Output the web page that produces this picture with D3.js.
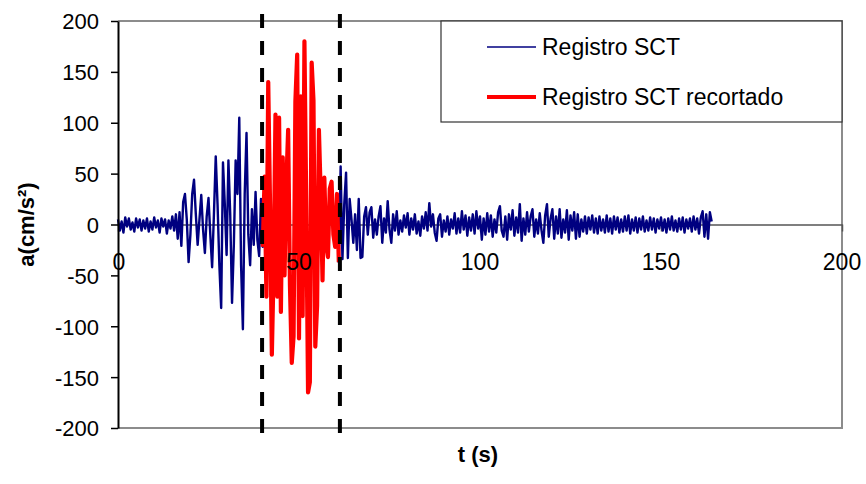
<!DOCTYPE html>
<html>
<head>
<meta charset="utf-8">
<script src="https://cdn.jsdelivr.net/npm/d3@7"></script>
<style>
  html, body { margin: 0; padding: 0; background: #fff; }
  svg { display: block; }
  text { font-family: "Liberation Sans", Arial, sans-serif; fill: #000; }
</style>
</head>
<body>
<svg id="chart" width="866" height="484"></svg>
<script>
// ---------- DATA ----------
const seriesNames = ["Registro SCT", "Registro SCT recortado"];
const sampleStep = 0.5;          // s between samples
const preStart = 0;              // t of first pre-cut sample
const cutStart = 40;             // t of first "recortado" sample
const postStart = 61.5;          // t of first post-cut sample

// Registro SCT before the cut window (t = 0 .. 39.5 s)
const preCut = [
  5, -6, 3, -8, 7, -2, 6, -5, 2, -7, 6, -3, 5, -6, 4, -4,
  6, -7, 3, -5, 7, -3, 4, -8, 6, -2, 5, -9, 4, -4, 8, -6,
  10, -14, 12, -21, 22, 30, 5, -37, -10, 30, 44, 10, -20, 5, 29, -5,
  -28, 8, 26, -10, -42, 10, 67, 20, -40, -82, 61, 20, -30, 63, 10, -77,
  -20, 63, 30, 105, -40, -103, 30, 90, -10, -40, 15, -20, 32, -15, -31, 25
];

// Registro SCT recortado (t = 40 .. 61 s)
const cutSegment = [
  -22, 47, -71, 140, 20, -128, -40, 108, -71, 105, -86, 66, -50, 40, 93, -60,
  -136, -110, 121, 167, -112, 126, -90, 180, 20, -165, -155, 159, 122, -120, -80, 93,
  30, -55, 46, -20, -32, 35, 42, -10, -22, 30, -37
];

// Registro SCT after the cut window (t = 61.5 .. 164 s)
const postCut = [
  57, -34, 20, 51, -33, 25, 5, -18, 10, -25, 25, -33, -32, 8, 17, -10,
  12, 17, -13, 5, -10, 8, 18, -18, 6, -8, 23, -5, -18, 10, -6, 13,
  -10, 4, -7, 9, -3, 11, -10, 6, -5, 10, -9, 3, -11, 8, -4, 12,
  -6, 21, -2, 10, -8, -16, 6, 10, -12, 4, -7, 8, -10, 5, -4, 11,
  -9, 6, -8, 13, -5, 9, -11, 7, -6, 10, -9, 13, -4, 8, -15, 6,
  -10, 11, -7, 9, -12, 5, -8, 12, 18, -6, -12, 8, -15, 10, -5, 14,
  -11, 7, -8, 20, -16, 6, -10, 12, -7, 8, 15, -12, 5, -9, 11, -6,
  -18, 9, 20, -12, 6, 15, -14, 8, -9, 15, -13, 5, -8, 14, -15, 9,
  -6, 12, -14, 10, -12, 5, -7, 8, -9, 7, -5, 9, -8, 6, -9, 8,
  -6, 5, -8, 9, -7, 6, -9, 8, -5, 7, -8, 5, -7, 8, -6, 9,
  -9, 5, -6, 7, -8, 6, -5, 8, -7, 4, -6, 7, -5, 6, -8, 5,
  -4, 7, -6, 5, -8, 6, -5, 8, -6, 4, -7, 6, -5, 7, -8, 5,
  -4, 6, -7, 8, -5, 6, -9, 7, 13, -12, 10, -14, 12, 3
];

// Cut window markers (dashed verticals)
const cutMarkers = [39.8, 61.3];
const markerSpan = [207, -209];

// Axes
const xDomain = [0, 200];
const yDomain = [-200, 200];
const xTicks = [0, 50, 100, 150, 200];
const yTicks = [200, 150, 100, 50, 0, -50, -100, -150, -200];
const xTitle = "t (s)";
const yTitle = "a(cm/s²)";

// ---------- CHART ----------
const svg = d3.select("#chart");
const plotL = 118, plotR = 842, plotT = 21, plotB = 428;

const x = d3.scaleLinear().domain(xDomain).range([plotL, plotR]);
const y = d3.scaleLinear().domain(yDomain).range([plotB, plotT]);

const toPts = (arr, t0) => arr.map((v, i) => ({ t: t0 + i * sampleStep, a: v }));
const prePts = toPts(preCut, preStart);
const cutPts = toPts(cutSegment, cutStart);
const postPts = toPts(postCut, postStart);
const fullPts = prePts.concat(cutPts, postPts);

const line = d3.line().x(d => x(d.t)).y(d => y(d.a));
const plainNum = d => String(d);

// plot frame (top / right / bottom in grey)
svg.append("path")
  .attr("d", `M${plotL},${plotT}H${plotR}V${plotB}H${plotL}`)
  .attr("fill", "none").attr("stroke", "#8c8c8c").attr("stroke-width", 2);

// zero axis (x axis through y=0)
const xAxis = svg.append("g")
  .attr("transform", `translate(0,${y(0)})`)
  .call(d3.axisBottom(x).tickValues(xTicks).tickSize(7).tickSizeOuter(0).tickPadding(21)
        .tickFormat(plainNum));
xAxis.select(".domain").attr("stroke", "#555").attr("stroke-width", 1.5);
xAxis.selectAll(".tick line").attr("stroke", "#555").attr("stroke-width", 1.5);
xAxis.selectAll(".tick text").remove();

// data
svg.append("path").datum(fullPts)
  .attr("d", line).attr("fill", "none")
  .attr("stroke", "#000080").attr("stroke-width", 2.4).attr("stroke-linejoin", "round");
svg.append("path").datum(cutPts)
  .attr("d", line).attr("fill", "none")
  .attr("stroke", "#ff0000").attr("stroke-width", 4.2).attr("stroke-linejoin", "round");

// dashed markers
svg.selectAll(".marker").data(cutMarkers).enter().append("line")
  .attr("class", "marker")
  .attr("x1", d => x(d)).attr("x2", d => x(d))
  .attr("y1", y(markerSpan[0])).attr("y2", y(markerSpan[1]))
  .attr("stroke", "#000").attr("stroke-width", 4).attr("stroke-dasharray", "14,13");

// x tick labels (drawn over data)
svg.append("g").selectAll("text").data(xTicks).enter().append("text")
  .attr("x", d => x(d) + (d === 0 ? 1 : 0))
  .attr("y", y(0) + 45)
  .attr("text-anchor", "middle")
  .style("font-size", "23px")
  .text(plainNum);

// y axis
const yAxis = svg.append("g")
  .attr("transform", `translate(${plotL},0)`)
  .call(d3.axisLeft(y).tickValues(yTicks).tickSize(7).tickSizeOuter(0).tickPadding(12)
        .tickFormat(plainNum));
yAxis.select(".domain").attr("stroke", "#000").attr("stroke-width", 2);
yAxis.selectAll(".tick line").attr("stroke", "#000").attr("stroke-width", 1.5);
yAxis.selectAll(".tick text")
  .style("font-size", "22px")
  .style("font-family", "'Liberation Sans', Arial, sans-serif")
  .attr("dy", "0.36em");

// axis titles
svg.append("text")
  .attr("transform", `translate(34,${(plotT + plotB) / 2}) rotate(-90)`)
  .attr("text-anchor", "middle")
  .style("font-size", "22px").style("font-weight", "bold")
  .text(yTitle);
svg.append("text")
  .attr("x", 478).attr("y", 462)
  .attr("text-anchor", "middle")
  .style("font-size", "22px").style("font-weight", "bold")
  .text(xTitle);

// legend
const lg = svg.append("g");
lg.append("rect")
  .attr("x", 441).attr("y", plotT).attr("width", plotR - 441).attr("height", 101)
  .attr("fill", "#fff").attr("stroke", "#333").attr("stroke-width", 1.2);
const legendItems = [
  { name: seriesNames[0], color: "#000080", w: 1.5, yy: 47 },
  { name: seriesNames[1], color: "#ff0000", w: 4, yy: 97 }
];
legendItems.forEach(it => {
  lg.append("line").attr("x1", 487).attr("x2", 536).attr("y1", it.yy).attr("y2", it.yy)
    .attr("stroke", it.color).attr("stroke-width", it.w);
  lg.append("text").attr("x", 542).attr("y", it.yy + 8)
    .style("font-size", "23px").text(it.name);
});
</script>
</body>
</html>
